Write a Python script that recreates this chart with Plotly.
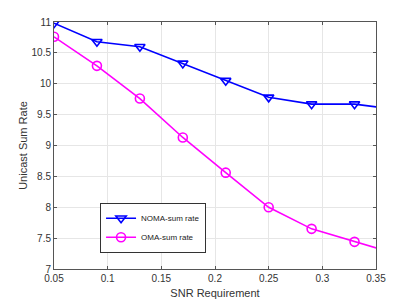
import plotly.graph_objects as go

snr = [0.05, 0.09, 0.13, 0.17, 0.21, 0.25, 0.29, 0.33, 0.37]
noma = [10.98, 10.68, 10.60, 10.33, 10.05, 9.78, 9.67, 9.67, 9.58]
oma = [10.76, 10.29, 9.76, 9.13, 8.56, 8.00, 7.65, 7.44, 7.24]

x_ticks = [0.05, 0.1, 0.15, 0.2, 0.25, 0.3, 0.35]
x_labels = ["0.05", "0.1", "0.15", "0.2", "0.25", "0.3", "0.35"]
y_ticks = [7, 7.5, 8, 8.5, 9, 9.5, 10, 10.5, 11]
y_labels = ["7", "7.5", "8", "8.5", "9", "9.5", "10", "10.5", "11"]

font = "Liberation Sans, Arial, sans-serif"

fig = go.Figure()
fig.add_trace(go.Scatter(x=snr, y=noma, mode="lines+markers", name="NOMA-sum rate",
                         line=dict(color="#0000FF", width=1.6),
                         marker=dict(symbol="triangle-down-open", size=9, color="#0000FF",
                                     line=dict(width=1.6, color="#0000FF"))))
fig.add_trace(go.Scatter(x=snr, y=oma, mode="lines+markers", name="OMA-sum rate",
                         line=dict(color="#FF00FF", width=1.6),
                         marker=dict(symbol="circle-open", size=9, color="#FF00FF",
                                     line=dict(width=1.6, color="#FF00FF"))))

axis_common = dict(showline=True, linecolor="#555555", linewidth=1, mirror="ticks",
                   ticks="inside", ticklen=3, tickcolor="#555555", automargin=False,
                   showgrid=True, gridcolor="#E6E6E6", gridwidth=1, zeroline=False,
                   tickfont=dict(family=font, size=10, color="#333333"))

fig.update_xaxes(range=[0.05, 0.35], tickmode="array", tickvals=x_ticks, ticktext=x_labels,
                 title=dict(text="SNR Requirement", font=dict(family=font, size=11, color="#333333"),
                            standoff=6),
                 **axis_common)
fig.update_yaxes(range=[7, 11], tickmode="array", tickvals=y_ticks, ticktext=y_labels,
                 title=dict(text="Unicast Sum Rate", font=dict(family=font, size=11, color="#333333"),
                            standoff=1),
                 **axis_common)

fig.update_layout(width=415, height=303, margin=dict(l=54, r=39, t=22, b=34),
                  paper_bgcolor="white", plot_bgcolor="white",
                  font=dict(family=font, size=10, color="#333333"),
                  legend=dict(x=0.143, y=0.268, xanchor="left", yanchor="top",
                              bgcolor="white", bordercolor="#333333", borderwidth=1,
                              font=dict(family=font, size=8, color="#222222"),
                              itemwidth=30, tracegroupgap=0))

fig.write_html("out.html", config={"displayModeBar": False},
               post_script="document.body.style.margin='0';")
